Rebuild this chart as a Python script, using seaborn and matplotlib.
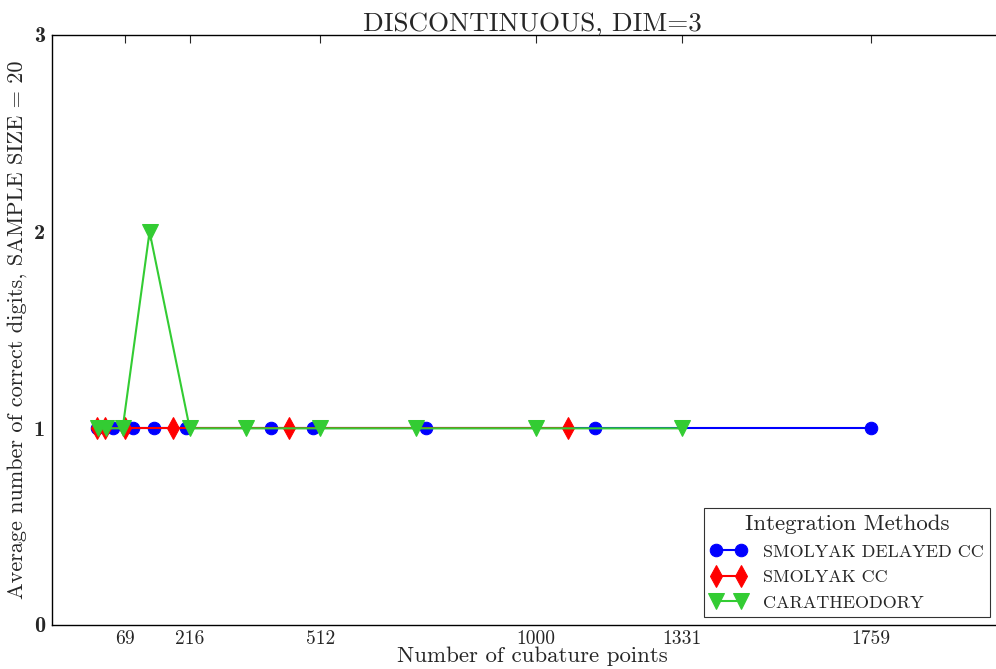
import matplotlib
matplotlib.use("Agg")
import matplotlib.pyplot as plt
import seaborn as sns
import pandas as pd

# Number of cubature points per level and the average number of correct digits
delayed_cc_points = [7, 43, 87, 135, 207, 399, 495, 751, 1135, 1759]
delayed_cc_digits = [1, 1, 1, 1, 1, 1, 1, 1, 1, 1]

cc_points = [7, 25, 69, 177, 441, 1073]
cc_digits = [1, 1, 1, 1, 1, 1]

cara_points = [8, 27, 64, 125, 216, 343, 512, 729, 1000, 1331]
cara_digits = [1, 1, 1, 2, 1, 1, 1, 1, 1, 1]

method_names = ["SMOLYAK DELAYED CC", "SMOLYAK CC", "CARATHEODORY"]
x_ticks = [69, 216, 512, 1000, 1331, 1759]
y_ticks = [0, 1, 2, 3]

sns.set_style("white")
plt.rcParams["font.family"] = ["cmr10", "DejaVu Serif"]
plt.rcParams["axes.formatter.use_mathtext"] = True
plt.rcParams["mathtext.fontset"] = "cm"

frames = []
for name, xs, ys in zip(method_names,
                        [delayed_cc_points, cc_points, cara_points],
                        [delayed_cc_digits, cc_digits, cara_digits]):
    frames.append(pd.DataFrame({"points": xs, "digits": ys, "method": name}))
data = pd.concat(frames, ignore_index=True)

styles = {
    "SMOLYAK DELAYED CC": dict(color="#0000ff", marker="o", markersize=9),
    "SMOLYAK CC": dict(color="#ff0000", marker="d", markersize=11),
    "CARATHEODORY": dict(color="#33cc33", marker="v", markersize=11),
}

fig = plt.figure(figsize=(9.96, 6.69), dpi=100)
# the axes run slightly past the right edge of the canvas
ax = fig.add_axes([52 / 996, 44 / 669, 960 / 996, 590 / 669])

for name in method_names:
    sub = data[data["method"] == name]
    st = styles[name]
    sns.lineplot(data=sub, x="points", y="digits", ax=ax, sort=False,
                 estimator=None, color=st["color"], marker=st["marker"],
                 markersize=st["markersize"], markeredgecolor=st["color"],
                 linewidth=1.5, label=name)

ax.set_xlim(-96, -96 + 960 * 2.265)
ax.set_ylim(0, 3)
ax.set_xticks(x_ticks)
ax.set_xticklabels([str(t) for t in x_ticks], fontsize=14)
ax.set_yticks(y_ticks)
ax.set_yticklabels([str(t) for t in y_ticks], fontsize=16,
                   family=["cmb10", "DejaVu Serif"])
ax.tick_params(direction="in", top=True, right=True, length=6, width=0.8)
ax.tick_params(axis="y", pad=5)

ax.set_title("DISCONTINUOUS, DIM=3", fontsize=19.5, pad=3)
ax.set_xlabel("Number of cubature points", fontsize=16.5, labelpad=-1)
ax.set_ylabel("Average number of correct digits, SAMPLE SIZE = 20",
              fontsize=16, labelpad=5)

for side in ["left", "bottom", "top", "right"]:
    ax.spines[side].set_color("black")
    ax.spines[side].set_linewidth(1.0)

leg = ax.legend(title="Integration Methods", loc="lower right",
                fontsize=13, title_fontsize=16.5, numpoints=2,
                fancybox=False, frameon=True, borderpad=0.35,
                borderaxespad=0, handlelength=2.0, handletextpad=0.9,
                labelspacing=0.55)
leg.set_bbox_to_anchor((990 / 996, 52 / 669), transform=fig.transFigure)
leg.get_frame().set_edgecolor("black")
leg.get_frame().set_linewidth(0.8)

fig.savefig("out.png", dpi=100)
